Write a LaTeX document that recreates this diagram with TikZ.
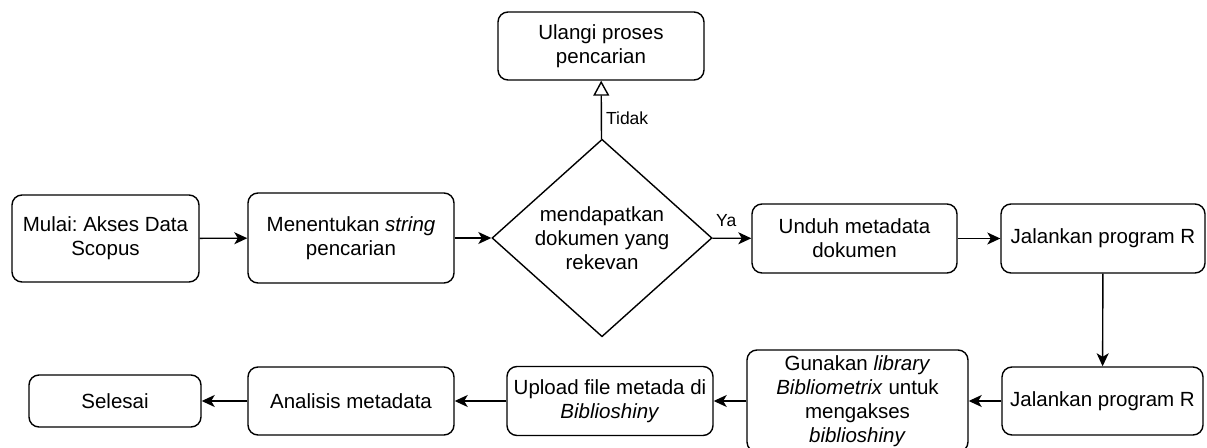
\documentclass[tikz,border=0pt]{standalone}
\usepackage{fontspec}
\setmainfont{Liberation Sans}
\usetikzlibrary{arrows.meta, shapes.geometric}

\begin{document}
\frenchspacing
\begin{tikzpicture}[x=1pt, y=1pt, >={Stealth[length=13pt, width=12pt, inset=3.5pt]},
    box/.style={draw, rounded corners=10pt, line width=1.4pt, align=center, inner sep=0pt, font=\fontsize{20.5}{24}\selectfont},
    decision/.style={draw, diamond, line width=1.4pt, align=center, inner sep=0pt, font=\fontsize{20.5}{24}\selectfont},
    flow/.style={line width=1.4pt, ->},
    lbl/.style={font=\fontsize{17.5}{20}\selectfont, inner sep=2pt}]
    \useasboundingbox (0,0) rectangle (1207,447);
    % top row
    \node[box, minimum width=187pt, minimum height=87pt] (mulai) at (105.5,208.5) {Mulai: Akses Data\\Scopus};
    \node[box, minimum width=206pt, minimum height=90pt] (tentukan) at (351,209) {Menentukan \textit{string}\\pencarian};
    \node[decision, minimum width=220pt, minimum height=187pt] (cek) at (602,209) {mendapatkan\\dokumen yang\\rekevan};
    \node[box, minimum width=206pt, minimum height=68pt] (ulangi) at (601,401) {Ulangi proses\\pencarian};
    \node[box, minimum width=205pt, minimum height=69pt] (unduh) at (854.5,208.5) {Unduh metadata\\dokumen};
    \node[box, minimum width=204pt, minimum height=69pt] (jalanA) at (1103,208.5) {Jalankan program R};
    % bottom row
    \node[box, minimum width=201pt, minimum height=68pt] (jalanB) at (1102.5,46) {Jalankan program R};
    \node[box, minimum width=221pt, minimum height=102pt] (gunakan) at (857.5,46) {Gunakan \textit{library}\\\textit{Bibliometrix} untuk\\mengakses\\\textit{biblioshiny}};
    \node[box, minimum width=206pt, minimum height=69pt] (upload) at (610,46) {Upload file metada di\\\textit{Biblioshiny}};
    \node[box, minimum width=206pt, minimum height=68pt] (analisis) at (351,46) {Analisis metadata};
    \node[box, minimum width=172pt, minimum height=52pt] (selesai) at (115,46) {Selesai};
    % connectors
    \draw[flow] (mulai) -- (tentukan);
    \draw[flow] (tentukan) -- (cek);
    \draw[flow] (cek) -- (unduh) node[lbl, pos=0, anchor=south west, xshift=1pt, yshift=9pt] {Ya};
    \draw[line width=1.4pt, -{Triangle[open, length=15pt, width=16pt]}] (cek) -- (ulangi) node[lbl, pos=0.36, right=2pt] {Tidak};
    \draw[flow] (unduh) -- (jalanA);
    \draw[flow] (jalanA) -- (jalanB);
    \draw[flow] (jalanB) -- (gunakan);
    \draw[flow] (gunakan) -- (upload);
    \draw[flow] (upload) -- (analisis);
    \draw[flow] (analisis) -- (selesai);
\end{tikzpicture}
\end{document}
